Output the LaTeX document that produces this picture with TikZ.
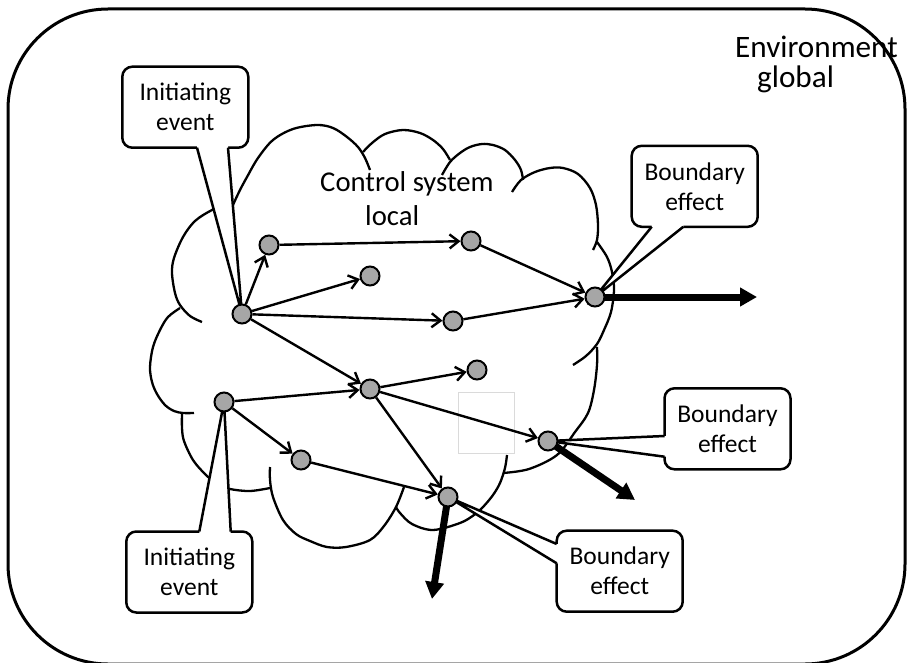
\documentclass[tikz,border=0pt]{standalone}
\usepackage{fontspec}
\setmainfont{Carlito}
\usetikzlibrary{arrows.meta}
\definecolor{dotgray}{RGB}{166,166,166}
\definecolor{faintgray}{RGB}{218,218,218}
\pgfdeclarelayer{back}
\pgfdeclarelayer{mid}
\pgfsetlayers{back,mid,main}

\begin{document}
\begin{tikzpicture}[x=1pt,y=-1pt,
  frame/.style={line width=3pt, rounded corners=100pt},
  cloudline/.style={line width=2.3pt, smooth, tension=0.55},
  callout/.style={draw, fill=white, line width=2.5pt, rounded corners=10pt,
    minimum width=126pt, minimum height=81pt, inner sep=0pt, outer sep=0pt,
    align=center, font=\fontsize{25.5}{30}\selectfont},
  pointer/.style={line width=2.5pt, line join=miter},
  dot/.style={circle, draw, line width=2pt, fill=dotgray, minimum size=19pt, inner sep=0pt},
  flow/.style={line width=2.4pt, -{Straight Barb[length=9pt,width=14pt]}},
  leak/.style={line width=7pt, -{Triangle[length=17pt,width=18pt]}},
  label/.style={anchor=base west, inner sep=0pt},
]
\useasboundingbox (0,0) rectangle (909,663);

% event points
\node[dot] (A) at (242,314) {};
\node[dot] (B) at (269,245) {};
\node[dot] (C) at (370,276) {};
\node[dot] (D) at (471,241) {};
\node[dot] (E) at (453,321) {};
\node[dot] (F) at (595,297) {};
\node[dot] (G) at (370,389) {};
\node[dot] (H) at (477,370) {};
\node[dot] (I) at (224,402) {};
\node[dot] (J) at (301,460) {};
\node[dot] (K) at (548,441) {};
\node[dot] (L) at (448,497) {};

\coordinate (outF) at (757,297);
\coordinate (outK) at (635,500);
\coordinate (outL) at (432,599);

\begin{pgfonlayer}{back}
  % environment frame
  \draw[frame] (8,9) rectangle (905,664);
  \node[label, font=\fontsize{31.2}{33}\selectfont] (env1) at (735,58) {Environment};
  \node[label, font=\fontsize{31.2}{33}\selectfont] (env2) at (757,88) {global};

  % cloud: one arc per bump, with the inner stubs
  \draw[cloudline] plot coordinates {(226,205) (212,210) (195,221) (183,237) (174,258) (172,273) (175,293) (180,305) (190,316) (202,322)};
  \draw[cloudline] plot coordinates {(180,308) (168,317) (160,330) (153,347) (150,367) (152,382) (157,394) (165,405) (174,411) (183,413) (194,413)};
  \draw[cloudline] plot coordinates {(182,413) (182,428) (184,441) (193,460) (205,474) (217,484) (230,489) (250,491) (270,488)};
  \draw[cloudline] plot coordinates {(270,467) (270,480) (273,497) (283,520) (296,534) (310,541) (327,547) (346,547) (370,540) (384,526) (396,507) (404,487)};
  \draw[cloudline] plot coordinates {(396,507) (400,513) (412,524) (433,530) (460,523) (474,515) (483,507) (493,495) (500,483) (505,468) (507,455)};
  \draw[cloudline] plot coordinates {(503,473) (529,469) (557,455) (575,432) (588,413) (594,390) (597,365) (597,347)};
  \draw[cloudline] plot coordinates {(597,242) (607,257) (612,272) (614,290) (611,312) (604,330) (597,344) (586,356) (573,365)};
  \draw[cloudline] plot coordinates {(512,192) (521,180) (535,172) (550,168) (563,168) (578,174) (590,188) (596,205) (598,225) (597,240) (593,250)};
  \draw[cloudline] plot coordinates {(442,175) (450,162) (460,153) (470,147) (482,144) (493,145) (505,150) (515,160) (521,170) (523,180)};
  \draw[cloudline] plot coordinates {(363,152) (372,143) (385,134) (403,130) (420,133) (433,140) (443,149) (450,160)};
  \draw[cloudline] plot coordinates {(228,218) (233,205) (240,190) (247,177) (258,158) (273,140) (293,129) (317,125) (333,128) (347,137) (358,147) (365,158) (370,170)};

  \node[label, font=\fontsize{28.7}{33}\selectfont] (ctl1) at (320,191.7) {Control system};
  \node[label, font=\fontsize{28.7}{33}\selectfont] (ctl2) at (365,225) {local};

  \draw[faintgray, line width=0.8pt] (458,392) rectangle (514,453);
\end{pgfonlayer}

\begin{pgfonlayer}{mid}
  % callouts
  \node[callout] (c1) at (185.3,107.2) {Initiating\\event};
  \fill[white] ([xshift=11.7pt,yshift=3pt]c1.south) -- ([xshift=11.7pt]c1.south) -- (A.center)
    -- ([xshift=42.7pt]c1.south) -- ([xshift=42.7pt,yshift=3pt]c1.south) -- cycle;
  \draw[pointer] ([xshift=11.7pt]c1.south) -- (A.center) -- ([xshift=42.7pt]c1.south);

  \node[callout] (c2) at (189.3,572) {Initiating\\event};
  \fill[white] ([xshift=10pt,yshift=-3pt]c2.north) -- ([xshift=10pt]c2.north) -- (I.center)
    -- ([xshift=41.4pt]c2.north) -- ([xshift=41.4pt,yshift=-3pt]c2.north) -- cycle;
  \draw[pointer] ([xshift=10pt]c2.north) -- (I.center) -- ([xshift=41.4pt]c2.north);

  \node[callout] (c3) at (694.7,186.3) {Boundary\\effect};
  \fill[white] ([xshift=-43pt,yshift=3pt]c3.south) -- ([xshift=-43pt]c3.south) -- (F.center)
    -- ([xshift=-11.4pt]c3.south) -- ([xshift=-11.4pt,yshift=3pt]c3.south) -- cycle;
  \draw[pointer] ([xshift=-43pt]c3.south) -- (F.center) -- ([xshift=-11.4pt]c3.south);

  \node[callout] (c4) at (727.5,428.8) {Boundary\\effect};
  \fill[white] ([yshift=-7.2pt,xshift=3pt]c4.west) -- ([yshift=-7.2pt]c4.west) -- (K.center)
    -- ([yshift=-27.9pt]c4.west) -- ([yshift=-27.9pt,xshift=3pt]c4.west) -- cycle;
  \draw[pointer] ([yshift=-7.2pt]c4.west) -- (K.center) -- ([yshift=-27.9pt]c4.west);

  \node[callout] (c5) at (619.7,571.2) {Boundary\\effect};
  \fill[white] ([yshift=27.2pt,xshift=3pt]c5.west) -- ([yshift=27.2pt]c5.west) -- (L.center)
    -- ([yshift=7.9pt]c5.west) -- ([yshift=7.9pt,xshift=3pt]c5.west) -- cycle;
  \draw[pointer] ([yshift=27.2pt]c5.west) -- (L.center) -- ([yshift=7.9pt]c5.west);

  % effects leaving the control system
  \draw[leak] (F.center) -- (outF);
  \draw[leak] (K.center) -- (outK);
  \draw[leak] (L.center) -- (outL);
\end{pgfonlayer}

% propagation inside the control system
\draw[flow] (A) -- (B);
\draw[flow] (A) -- (C);
\draw[flow] (A) -- (E);
\draw[flow] (A) -- (G);
\draw[flow] (B) -- (D);
\draw[flow] (D) -- (F);
\draw[flow] (E) -- (F);
\draw[flow] (I) -- (G);
\draw[flow] (I) -- (J);
\draw[flow] (G) -- (H);
\draw[flow] (G) -- (K);
\draw[flow] (G) -- (L);
\draw[flow] (J) -- (L);
\end{tikzpicture}
\end{document}
